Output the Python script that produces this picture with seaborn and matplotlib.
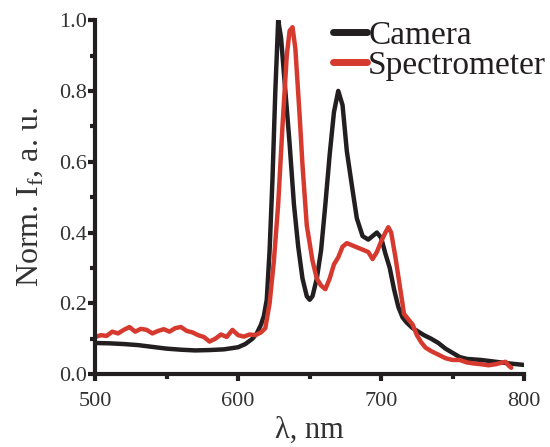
import pandas as pd
import seaborn as sns
import matplotlib.pyplot as plt
from matplotlib.ticker import MultipleLocator

# 1. DATA
cam_wl = [500, 510, 520, 530, 540, 550, 560, 570, 580, 590, 600, 605, 610, 613,
          616, 618, 620, 622, 624, 626, 628, 630, 633, 636, 639, 642, 645, 648,
          650, 652, 655, 658, 661, 664, 667, 670, 673, 676, 680, 683, 687, 691,
          694, 697, 700, 703, 706, 709, 712, 715, 718, 722, 726, 730, 735, 740,
          745, 750, 755, 760, 770, 780, 790, 800]
cam_int = [0.088, 0.087, 0.085, 0.082, 0.077, 0.072, 0.069, 0.067, 0.068, 0.070,
           0.076, 0.085, 0.100, 0.115, 0.140, 0.165, 0.210, 0.350, 0.550, 0.800,
           1.000, 0.950, 0.800, 0.650, 0.480, 0.360, 0.270, 0.220, 0.210, 0.220,
           0.270, 0.350, 0.480, 0.620, 0.740, 0.800, 0.760, 0.630, 0.520, 0.440,
           0.390, 0.380, 0.390, 0.400, 0.385, 0.340, 0.300, 0.240, 0.190, 0.160,
           0.145, 0.130, 0.120, 0.110, 0.100, 0.088, 0.072, 0.060, 0.048, 0.043,
           0.040, 0.035, 0.030, 0.026]

spec_wl = [500, 504, 508, 512, 516, 520, 524, 528, 532, 536, 540, 544, 548, 552,
           556, 560, 564, 568, 572, 576, 580, 584, 588, 592, 596, 600, 604, 608,
           612, 616, 619, 622, 625, 628, 631, 634, 636, 638, 640, 643, 645, 648,
           652, 655, 658, 661, 664, 667, 670, 673, 676, 679, 682, 685, 688, 691,
           694, 697, 700, 703, 705, 707, 710, 713, 716, 719, 722, 725, 728, 731,
           735, 740, 745, 750, 755, 760, 765, 770, 775, 780, 784, 787, 789, 791]
spec_int = [0.105, 0.110, 0.108, 0.120, 0.115, 0.125, 0.133, 0.120, 0.128, 0.125,
            0.115, 0.122, 0.127, 0.120, 0.130, 0.133, 0.122, 0.118, 0.110, 0.105,
            0.092, 0.100, 0.112, 0.105, 0.125, 0.110, 0.106, 0.112, 0.110, 0.118,
            0.130, 0.200, 0.320, 0.480, 0.700, 0.900, 0.970, 0.980, 0.920, 0.730,
            0.590, 0.420, 0.320, 0.270, 0.250, 0.240, 0.270, 0.310, 0.330, 0.360,
            0.370, 0.365, 0.360, 0.355, 0.350, 0.345, 0.325, 0.345, 0.375, 0.400,
            0.415, 0.400, 0.330, 0.250, 0.170, 0.155, 0.140, 0.110, 0.090, 0.075,
            0.065, 0.055, 0.045, 0.040, 0.040, 0.033, 0.030, 0.028, 0.025, 0.028,
            0.032, 0.035, 0.025, 0.018]

labels = ['Camera', 'Spectrometer']
colors = {'Camera': '#231f20', 'Spectrometer': '#d63a2f'}

df = pd.concat([
    pd.DataFrame({'wl': cam_wl, 'I': cam_int, 'src': labels[0]}),
    pd.DataFrame({'wl': spec_wl, 'I': spec_int, 'src': labels[1]}),
])

# 2. STYLING
sns.set_style('ticks')
plt.rcParams.update({
    'font.family': ['Liberation Serif', 'DejaVu Serif'],
    'mathtext.fontset': 'custom',
    'mathtext.rm': 'Liberation Serif',
    'axes.edgecolor': '#231f20', 'axes.linewidth': 3,
    'xtick.color': '#231f20', 'ytick.color': '#231f20',
    'xtick.labelcolor': '#333333', 'ytick.labelcolor': '#333333',
    'text.color': '#231f20', 'axes.labelcolor': '#333333',
})

fig = plt.figure(figsize=(5.5, 4.47), dpi=100)
ax = fig.add_axes([0.173, 0.163, 0.78, 0.792])

# 3. PLOT
sns.lineplot(data=df, x='wl', y='I', hue='src', hue_order=labels,
             palette=colors, linewidth=3.2, sort=False, estimator=None, ax=ax)

ax.set_xlim(500, 800)
ax.set_ylim(0, 1.0)
ax.xaxis.set_major_locator(MultipleLocator(100))
ax.xaxis.set_minor_locator(MultipleLocator(50))
ax.yaxis.set_major_locator(MultipleLocator(0.2))
ax.yaxis.set_minor_locator(MultipleLocator(0.1))
ax.yaxis.set_major_formatter(plt.FormatStrFormatter('%.1f'))
ax.tick_params(which='major', direction='out', length=5, width=3,
               labelsize=16, pad=1)
ax.tick_params(axis='x', which='major', pad=8)
ax.tick_params(which='minor', direction='out', length=3.5, width=3)

ax.set_xlabel('λ, nm', size=22, labelpad=3)
ax.set_ylabel('Norm. I$_{\\mathregular{f}}$, a. u.', size=23, labelpad=10)

leg = ax.legend(loc='upper left', bbox_to_anchor=(0.555, 1.0), frameon=False,
                fontsize=24, handlelength=1.0, handletextpad=0.05,
                labelspacing=0.0, borderpad=0, borderaxespad=0)
for line in leg.get_lines():
    line.set_linewidth(5)

sns.despine(ax=ax)
fig.savefig('out.png', dpi=100)
